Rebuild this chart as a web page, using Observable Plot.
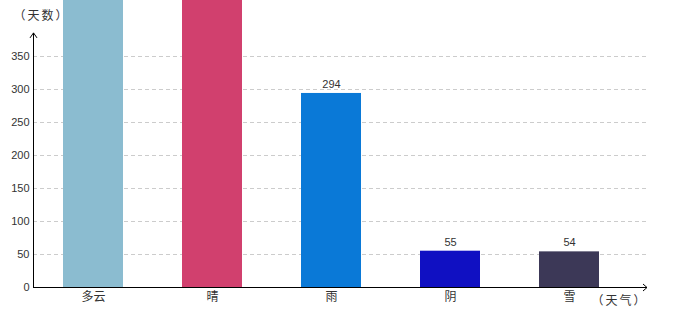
<!DOCTYPE html>
<html><head><meta charset="utf-8">
<script src="https://cdn.jsdelivr.net/npm/d3@7"></script>
<script src="https://cdn.jsdelivr.net/npm/@observablehq/plot@0.6"></script>
<style>body{margin:0;background:#fff}</style>
</head><body><div id="chart"></div>
<script>
const categories = ["多云", "晴", "雨", "阴", "雪"];
const days = [480, 520, 294, 55, 54];
const colors = ["#8bbcd0", "#d1406e", "#0a79d7", "#1010c2", "#3c3857"];
const yTicks = [0, 50, 100, 150, 200, 250, 300, 350];
const yAxisTitle = "（天数）";
const xAxisTitle = "（天气）";
const yArrowTop = 385;

const data = categories.map((c, i) => ({category: c, days: days[i]}));

const W = 680, H = 320, mL = 33, mR = 33, mT = 56, mB = 33;
const font = "'Liberation Sans', 'Noto Sans CJK SC', sans-serif";
const cjk = "'Noto Sans CJK SC', sans-serif";

const chart = Plot.plot({
  width: W, height: H,
  marginLeft: mL, marginRight: mR, marginTop: mT, marginBottom: mB,
  style: {fontFamily: font, fontSize: "11px", color: "#333", background: "#fff", overflow: "hidden"},
  x: {type: "band", domain: categories, range: [mL, 628], paddingInner: 0.5, paddingOuter: 0.25},
  y: {domain: [0, 350]},
  color: {type: "ordinal", domain: categories, range: colors},
  marks: [
    Plot.gridY(yTicks.filter(d => d > 0), {stroke: "#cccccc", strokeOpacity: 1, strokeDasharray: "4,3"}),
    Plot.barY(data, {x: "category", y: "days", fill: "category"}),
    Plot.text(data, {filter: d => d.days <= 350, x: "category", y: "days", text: d => String(d.days), dy: -9, fontSize: 11, fill: "#333"}),
    Plot.axisY({ticks: yTicks, tickSize: 0, tickPadding: 4, label: null, fontSize: 11}),
    Plot.axisX({tickSize: 0, tickPadding: 5, label: null, fontSize: 12, fill: "#333"}),
    Plot.ruleY([0], {stroke: "#000"}),
    Plot.text([yAxisTitle], {frameAnchor: "top-left", textAnchor: "start", lineAnchor: "middle", dx: -20, dy: -40, fontSize: 12, fill: "#333", fontFamily: cjk}),
    Plot.text([xAxisTitle], {frameAnchor: "bottom-right", textAnchor: "end", lineAnchor: "middle", dx: 0, dy: 14, fontSize: 12, fill: "#333", fontFamily: cjk})
  ]
});

document.getElementById("chart").appendChild(chart);

const svg = d3.select(chart);
// spacing of the axis titles, as in the reference
svg.selectAll("text").filter(function() {
  const t = this.textContent;
  return t === yAxisTitle || t === xAxisTitle;
}).style("letter-spacing", "2px");

// axis lines with arrowheads
const ys = chart.scale("y");
const y0 = ys.apply(0), yTop = ys.apply(yArrowTop);
const xEnd = W - mR;
svg.append("path")
  .attr("d", `M${mL + 0.5},${y0}V${yTop}M${mL - 3},${yTop + 5}L${mL + 0.5},${yTop}L${mL + 4},${yTop + 5}`)
  .attr("fill", "none").attr("stroke", "#000");
svg.append("path")
  .attr("d", `M${xEnd - 4},${y0 - 3}L${xEnd},${y0 + 0.5}L${xEnd - 4},${y0 + 4}`)
  .attr("fill", "none").attr("stroke", "#000");
</script></body></html>
